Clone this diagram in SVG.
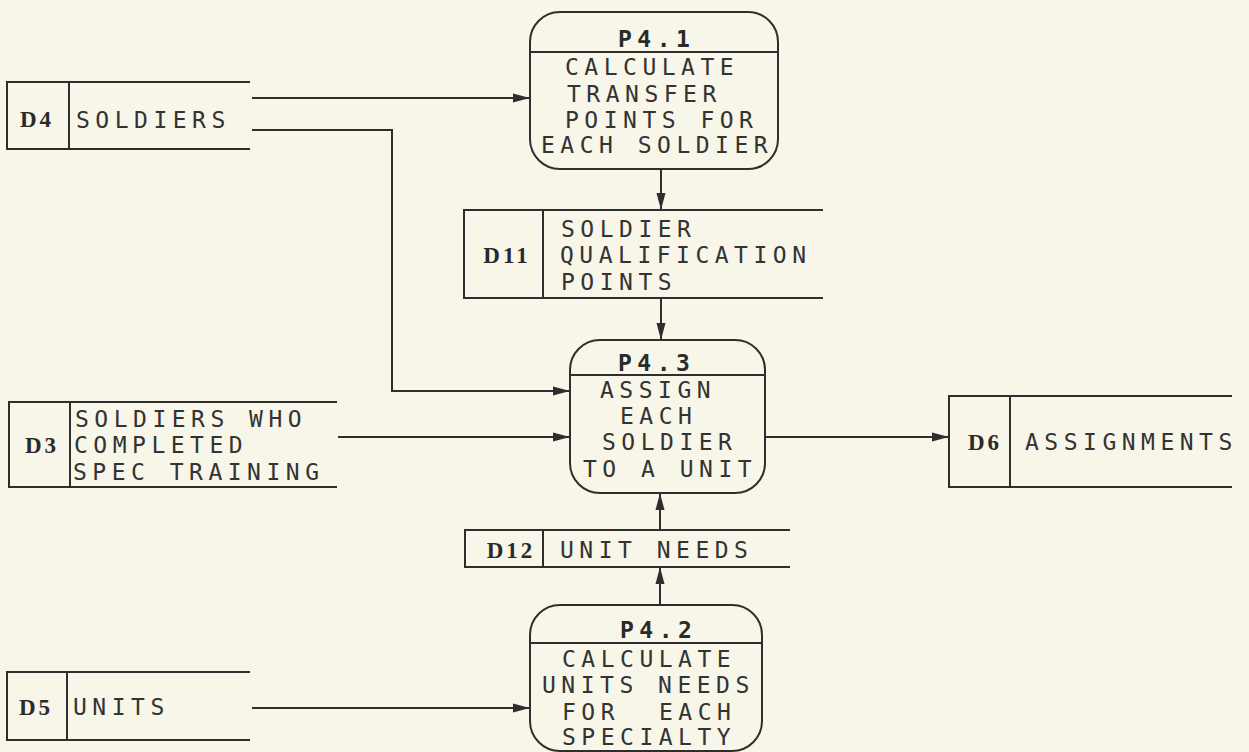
<svg xmlns="http://www.w3.org/2000/svg" width="1249" height="752" viewBox="0 0 1249 752">
<defs>
<marker id="ah" markerUnits="userSpaceOnUse" markerWidth="18" markerHeight="10" refX="17" refY="5" orient="auto">
<path d="M0,0.5 L17,5 L0,9.5 z" fill="#2e2e2e"/>
</marker>
<style>
.ln{fill:none;stroke:#2e2e2e;stroke-width:2}
.cn{fill:none;stroke:#2e2e2e;stroke-width:2;marker-end:url(#ah)}
.t{font-family:"DejaVu Sans Mono","Liberation Mono",monospace;font-size:23px;letter-spacing:5.5px;fill:#333}
.h{font-family:"DejaVu Sans Mono","Liberation Mono",monospace;font-size:23px;letter-spacing:5.5px;fill:#2a2a2a;font-weight:bold}
.d{font-family:"Liberation Serif","DejaVu Serif",serif;font-size:23px;font-weight:bold;letter-spacing:3px;fill:#2a2a2a;text-anchor:middle}
</style>
</defs>
<rect width="1249" height="752" fill="#f7f6e8"/>

<g id="connectors">
<path class="cn" d="M252,98 H530"/>
<path class="cn" d="M252,130 H392 V391 H570"/>
<path class="cn" d="M661,169 V210"/>
<path class="cn" d="M661,298 V340"/>
<path class="cn" d="M338,437 H570"/>
<path class="cn" d="M765,437 H949"/>
<path class="cn" d="M660,530 V493"/>
<path class="cn" d="M660,605 V567"/>
<path class="cn" d="M252,708 H530"/>
</g>

<g id="P4.1">
<rect class="ln" x="530" y="12" width="248" height="157" rx="30" ry="30"/>
<line class="ln" x1="530" y1="52" x2="778" y2="52"/>
<text class="h" x="618" y="47">P4.1</text>
<text class="t" x="565" y="75">CALCULATE</text>
<text class="t" x="567" y="102">TRANSFER</text>
<text class="t" x="565" y="128">POINTS FOR</text>
<text class="t" x="541" y="153">EACH SOLDIER</text>
</g>

<g id="P4.3">
<rect class="ln" x="570" y="340" width="195" height="153" rx="30" ry="30"/>
<line class="ln" x1="570" y1="375" x2="765" y2="375"/>
<text class="h" x="618" y="371">P4.3</text>
<text class="t" x="600" y="398">ASSIGN</text>
<text class="t" x="620" y="424">EACH</text>
<text class="t" x="602" y="450">SOLDIER</text>
<text class="t" x="583" y="477">TO A UNIT</text>
</g>

<g id="P4.2">
<rect class="ln" x="530" y="605" width="232" height="146" rx="30" ry="30"/>
<line class="ln" x1="530" y1="643" x2="762" y2="643"/>
<text class="h" x="620" y="638">P4.2</text>
<text class="t" x="562" y="667">CALCULATE</text>
<text class="t" x="542" y="693">UNITS NEEDS</text>
<text class="t" y="720"><tspan x="562">FOR</tspan><tspan x="659">EACH</tspan></text>
<text class="t" x="562" y="745">SPECIALTY</text>
</g>

<g id="D4">
<path class="ln" d="M250,82 H7 V149 H250 M69,82 V149"/>
<text class="d" x="37" y="127">D4</text>
<text class="t" x="76" y="128">SOLDIERS</text>
</g>

<g id="D11">
<path class="ln" d="M823,210 H464 V298 H823 M543,210 V298"/>
<text class="d" x="507" y="263">D11</text>
<text class="t" x="561" y="237">SOLDIER</text>
<text class="t" x="560" y="263">QUALIFICATION</text>
<text class="t" x="561" y="290">POINTS</text>
</g>

<g id="D3">
<path class="ln" d="M337,402 H9 V487 H337 M70,402 V487"/>
<text class="d" x="42" y="453">D3</text>
<text class="t" x="75" y="427">SOLDIERS WHO</text>
<text class="t" x="74" y="453">COMPLETED</text>
<text class="t" x="73" y="480">SPEC TRAINING</text>
</g>

<g id="D6">
<path class="ln" d="M1232,396 H949 V487 H1232 M1010,396 V487"/>
<text class="d" x="985" y="450">D6</text>
<text class="t" x="1025" y="450">ASSIGNMENTS</text>
</g>

<g id="D12">
<path class="ln" d="M790,530 H465 V567 H790 M543,530 V567"/>
<text class="d" x="511" y="558">D12</text>
<text class="t" x="560" y="558">UNIT NEEDS</text>
</g>

<g id="D5">
<path class="ln" d="M250,672 H7 V740 H250 M67,672 V740"/>
<text class="d" x="36" y="715">D5</text>
<text class="t" x="73" y="715">UNITS</text>
</g>
</svg>
